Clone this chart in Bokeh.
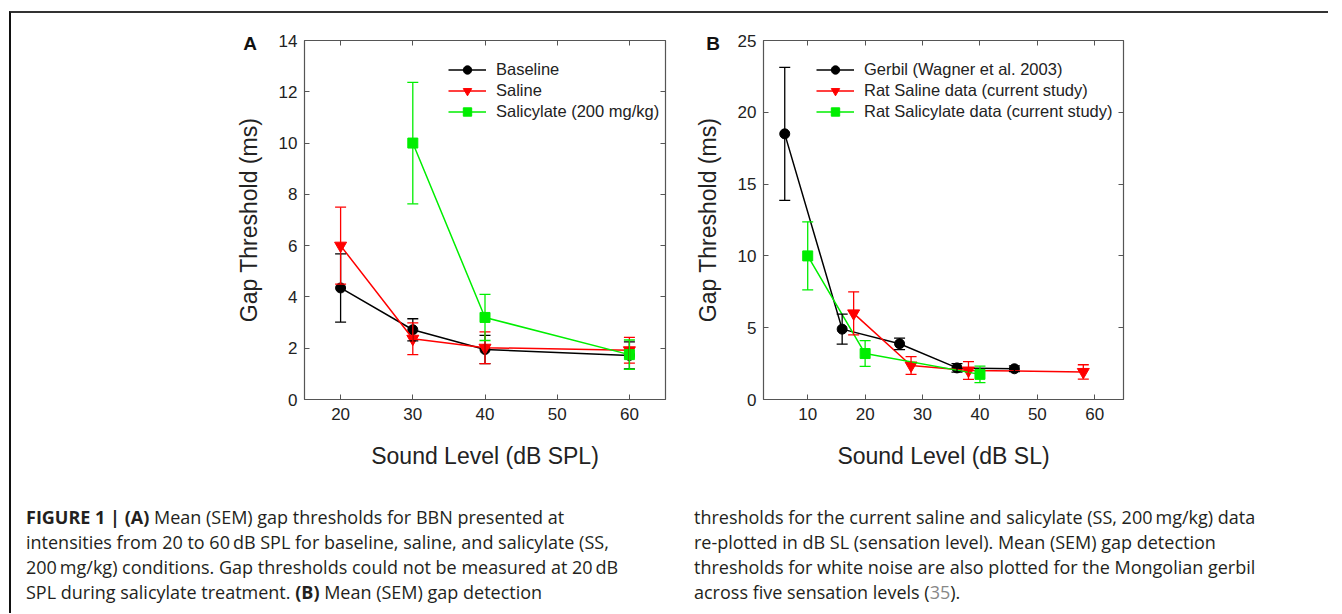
from bokeh.plotting import figure
from bokeh.models import (ColumnDataSource, Whisker, TeeHead, Legend, LegendItem,
                          FixedTicker, LinearAxis, Range1d, Div,
                          CustomLabelingPolicy)
from bokeh.layouts import row, column
from bokeh.embed import file_html
from bokeh.resources import INLINE

# ---------------- data ----------------
# Panel A: sound level in dB SPL
spl_baseline = [20, 30, 40, 60]
thr_baseline = [4.35, 2.72, 1.95, 1.72]
sem_baseline = [1.33, 0.43, 0.55, 0.53]

spl_saline = [20, 30, 40, 60]
thr_saline = [6.0, 2.37, 2.02, 1.92]
sem_saline = [1.5, 0.62, 0.62, 0.5]

spl_salicylate = [30, 40, 60]
thr_salicylate = [10.0, 3.2, 1.75]
sem_salicylate = [2.37, 0.9, 0.57]

# Panel B: sound level in dB SL
sl_gerbil = [6, 16, 26, 36, 46]
thr_gerbil = [18.5, 4.9, 3.88, 2.2, 2.14]
sem_gerbil = [4.63, 1.05, 0.4, 0.3, 0.2]

sl_saline = [18, 28, 38, 58]
sl_salicylate = [10, 20, 40]

ticks_a_x = [20, 30, 40, 50, 60]
ticks_a_y = [0, 2, 4, 6, 8, 10, 12, 14]
ticks_b_x = [10, 20, 30, 40, 50, 60]
ticks_b_y = [0, 5, 10, 15, 20, 25]

labels_a = ["Baseline", "Saline", "Salicylate (200 mg/kg)"]
labels_b = ["Gerbil (Wagner et al. 2003)", "Rat Saline data (current study)",
            "Rat Salicylate data (current study)"]

BLACK = "#000000"
RED = "#ff0000"
GREEN = "#00ee00"
FONT = "Liberation Sans"
FRAME = "#555555"
FRAME_H = 359


def make_panel(xr, yr, xticks, yticks, xtitle, series, labels,
               frame_w, border_left, border_right, legend_x):
    p = figure(frame_width=frame_w, frame_height=FRAME_H,
               x_range=Range1d(*xr), y_range=Range1d(*yr),
               output_backend="svg", toolbar_location=None,
               min_border_left=border_left, min_border_right=border_right,
               min_border_top=27, min_border_bottom=79,
               background_fill_color="white", border_fill_color="white")
    p.grid.visible = False
    p.outline_line_color = FRAME
    p.outline_line_width = 1.2

    for ax, tk in ((p.xaxis[0], xticks), (p.yaxis[0], yticks)):
        ax.ticker = FixedTicker(ticks=tk)
        ax.axis_line_color = None
        ax.major_tick_in = 5
        ax.major_tick_out = 0
        ax.major_tick_line_color = FRAME
        ax.minor_tick_line_color = None
        ax.major_label_text_font = FONT
        ax.major_label_text_font_size = "17px"
        ax.major_label_text_color = "#222222"
        ax.axis_label_text_font = FONT
        ax.axis_label_text_font_size = "23px"
        ax.axis_label_text_font_style = "normal"
        ax.axis_label_text_color = "#222222"
    p.xaxis.major_label_standoff = 8
    p.yaxis.major_label_standoff = 7
    p.xaxis.axis_label = xtitle
    p.xaxis.axis_label_standoff = 20
    p.yaxis.axis_label = "Gap Threshold (ms)"
    p.yaxis.axis_label_standoff = 14

    no_labels = CustomLabelingPolicy(code="return new Set()")
    for loc, tk in (("above", xticks), ("right", yticks)):
        ax = LinearAxis(ticker=FixedTicker(ticks=tk), axis_line_color=None,
                        major_tick_in=5, major_tick_out=0,
                        major_tick_line_color=FRAME, minor_tick_line_color=None,
                        major_label_policy=no_labels,
                        major_label_text_font_size="6px", major_label_standoff=0)
        p.add_layout(ax, loc)

    items = []
    for (xs, ys, es, color, marker, msize), lab in zip(series, labels):
        src = ColumnDataSource(dict(x=xs, y=ys,
                                    lower=[y - e for y, e in zip(ys, es)],
                                    upper=[y + e for y, e in zip(ys, es)]))
        w = Whisker(base="x", lower="lower", upper="upper", source=src,
                    dimension="height", line_color=color, line_width=1.3,
                    upper_head=TeeHead(size=11, line_color=color, line_width=1.3),
                    lower_head=TeeHead(size=11, line_color=color, line_width=1.3),
                    level="glyph")
        p.add_layout(w)
        lr = p.line("x", "y", source=src, line_color=color, line_width=1.5)
        sr = p.scatter("x", "y", source=src, marker=marker, size=msize,
                       fill_color=color, line_color=color)
        items.append(LegendItem(label=lab, renderers=[lr, sr]))

    legend = Legend(items=items, location=(legend_x, 277), glyph_width=38,
                    glyph_height=21, label_height=21, label_standoff=10,
                    spacing=0, padding=0, margin=0, border_line_alpha=0,
                    background_fill_alpha=0, label_text_font=FONT,
                    label_text_font_size="16.5px", label_text_color="#222222")
    p.add_layout(legend)
    return p


series_a = [
    (spl_baseline, thr_baseline, sem_baseline, BLACK, "circle", 10),
    (spl_saline, thr_saline, sem_saline, RED, "inverted_triangle", 12),
    (spl_salicylate, thr_salicylate, sem_salicylate, GREEN, "square", 10),
]
series_b = [
    (sl_gerbil, thr_gerbil, sem_gerbil, BLACK, "circle", 10),
    (sl_saline, thr_saline, sem_saline, RED, "inverted_triangle", 12),
    (sl_salicylate, thr_salicylate, sem_salicylate, GREEN, "square", 10),
]

pA = make_panel((15, 65), (0, 14), ticks_a_x, ticks_a_y,
                "Sound Level (dB SPL)", series_a, labels_a, 361, 293, 10, 144)
pB = make_panel((2.3, 65), (0, 25), ticks_b_x, ticks_b_y,
                "Sound Level (dB SL)", series_b, labels_b, 360, 88, 205, 53)

panel_letters = ["A", "B"]

left_lines = [
    "<b>FIGURE 1 | (A)</b> Mean (SEM) gap thresholds for BBN presented at",
    "intensities from 20 to 60\u2009dB SPL for baseline, saline, and salicylate (SS,",
    "200\u2009mg/kg) conditions. Gap thresholds could not be measured at 20\u2009dB",
    "SPL during salicylate treatment. <b>(B)</b> Mean (SEM) gap detection",
]
right_lines = [
    "thresholds for the current saline and salicylate (SS, 200\u2009mg/kg) data",
    "re-plotted in dB SL (sensation level). Mean (SEM) gap detection",
    "thresholds for white noise are also plotted for the Mongolian gerbil",
    "across five sensation levels (<span style='color:#888888'>35</span>).",
]

letter_css = ("position:absolute;top:-445px;width:24px;text-align:center;"
              "font-family:'Liberation Sans';font-weight:bold;font-size:19px;"
              "line-height:22px;color:#111111;")
caption_html = (
    "<div style=\"position:relative;width:1310px;height:135px;"
    "font-family:'Open Sans';font-size:18px;line-height:25px;color:#231f20;\">"
    f"<div style=\"{letter_css}left:227px;\">{panel_letters[0]}</div>"
    f"<div style=\"{letter_css}left:690px;\">{panel_letters[1]}</div>"
    "<div style='position:absolute;left:15px;top:27px;white-space:nowrap;'>"
    + "<br>".join(left_lines) +
    "</div><div style='position:absolute;left:683px;top:27px;white-space:nowrap;'>"
    + "<br>".join(right_lines) + "</div></div>"
)
caption = Div(text=caption_html, width=1310, height=135, margin=0,
              styles={"overflow": "visible"})

root = column(row(pA, pB, margin=0), caption, margin=(11, 0, 0, 9),
              styles={"border-top": "2px solid #333333",
                      "border-left": "2px solid #111111"})

open("out.html", "w").write(file_html(root, INLINE))
